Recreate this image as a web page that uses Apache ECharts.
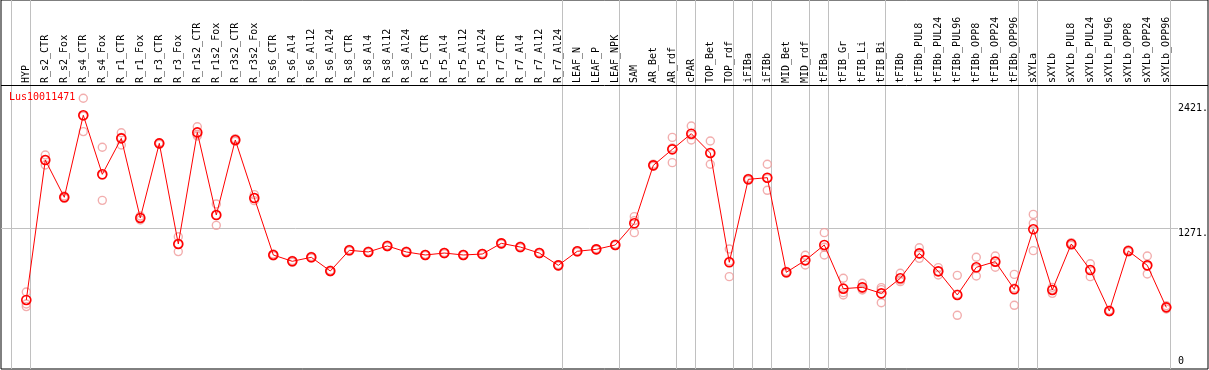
<!DOCTYPE html>
<html>
<head>
<meta charset="utf-8">
<script src="https://cdn.jsdelivr.net/npm/echarts@6/dist/echarts.min.js"></script>
<style>html,body{margin:0;padding:0;background:#fff}#c{width:1209px;height:370px}</style>
</head>
<body>
<div id="c"></div>
<script>
const geneName = 'Lus10011471';
const categories = ['HYP','R_s2_CTR','R_s2_Fox','R_s4_CTR','R_s4_Fox','R_r1_CTR','R_r1_Fox','R_r3_CTR','R_r3_Fox','R_r1s2_CTR','R_r1s2_Fox','R_r3s2_CTR','R_r3s2_Fox','R_s6_CTR','R_s6_Al4','R_s6_Al12','R_s6_Al24','R_s8_CTR','R_s8_Al4','R_s8_Al12','R_s8_Al24','R_r5_CTR','R_r5_Al4','R_r5_Al12','R_r5_Al24','R_r7_CTR','R_r7_Al4','R_r7_Al12','R_r7_Al24','LEAF_N','LEAF_P','LEAF_NPK','SAM','AR_Bet','AR_rdf','cPAR','TOP_Bet','TOP_rdf','iFIBa','iFIBb','MID_Bet','MID_rdf','tFIBa','tFIB_Gr','tFIB_Li','tFIB_Bi','tFIBb','tFIBb_PUL8','tFIBb_PUL24','tFIBb_PUL96','tFIBb_OPP8','tFIBb_OPP24','tFIBb_OPP96','sXYLa','sXYLb','sXYLb_PUL8','sXYLb_PUL24','sXYLb_PUL96','sXYLb_OPP8','sXYLb_OPP24','sXYLb_OPP96'];
const means = [613,1898,1556,2309,1767,2097,1366,2051,1127,2152,1393,2082,1549,1026,968,1005,879,1069,1054,1109,1054,1026,1044,1026,1035,1133,1099,1044,931,1060,1078,1118,1317,1849,1996,2140,1963,959,1721,1736,867,977,1118,717,729,674,812,1041,876,659,913,965,711,1262,705,1127,888,512,1063,931,545];
const rep1 = [686,1944,1568,2465,2015,2149,1384,2058,1194,2204,1494,2094,1580,1035,975,1012,886,1076,1060,1116,1060,1032,1050,1032,1041,1140,1106,1050,938,1066,1084,1124,1378,1860,2106,2211,2073,1081,1730,1859,876,1023,1231,812,766,726,858,1093,910,839,1005,1017,848,1399,729,1140,946,520,1072,1017,560];
const rep2 = [552,1852,1546,2159,1528,2036,1347,2042,1057,2119,1298,2070,1525,1018,960,998,872,1062,1048,1102,1048,1020,1038,1020,1029,1126,1092,1038,924,1054,1072,1112,1231,1840,1874,2082,1859,827,1712,1620,858,934,1026,659,705,588,781,995,842,472,833,913,564,1066,674,1115,827,505,1055,852,530];
const rep3 = [576,1898,1556,2303,1758,2106,1366,2051,1127,2133,1393,2082,1549,1026,968,1005,879,1069,1054,1109,1054,1026,1044,1026,1035,1133,1099,1044,931,1060,1078,1118,1342,1849,2008,2127,1957,969,1721,1729,867,977,1097,680,716,708,797,1035,876,666,901,965,721,1317,710,1126,891,512,1063,924,545];
const yTicks = [0, 1271, 2421];
const refLine = 1271;
// indices after which a group separator is drawn (-1 = before first)
const groupEnds = [-1,0,28,31,34,35,37,38,39,41,42,45,52,53,60];

// layout
const boxL = 1, boxW = 1207, boxT = 0, boxH = 369;
const step = 19, firstX = 26.3;
const xMin = (boxL - firstX) / step, xMax = (boxL + boxW - firstX) / step;
const yMin = -20.9, yMax = 3367.6;
const headerValue = yMax - 85 * (yMax - yMin) / boxH;
const mono = 'DejaVu Sans Mono';

const pts = a => a.map((v, i) => [i, v]);
const repStyle = {
  type: 'scatter', xAxisIndex: 0, yAxisIndex: 0, symbol: 'circle', symbolSize: 8,
  itemStyle: {color: 'rgba(0,0,0,0)', borderColor: '#ef9a9a', borderWidth: 1.4},
  silent: true, z: 3
};

const chart = echarts.init(document.getElementById('c'), null, {renderer: 'canvas'});
chart.setOption({
  animation: false,
  title: {text: geneName, left: 9, top: 92, padding: 0,
    textStyle: {color: '#ff0000', fontSize: 10, fontWeight: 'normal', fontFamily: mono}},
  grid: [
    {left: boxL, top: boxT, width: boxW, height: boxH, show: true, borderColor: '#000', borderWidth: 1,
      backgroundColor: '#fff', containLabel: false, outerBoundsMode: 'none'},
    {left: firstX - step / 2, top: 0, width: step * categories.length, height: 83,
      containLabel: false, outerBoundsMode: 'none'}
  ],
  xAxis: [
    {type: 'value', gridIndex: 0, min: xMin, max: xMax, show: false},
    {type: 'category', gridIndex: 1, data: categories, position: 'bottom',
      axisLine: {show: false}, axisTick: {show: false},
      axisLabel: {inside: true, rotate: 90, interval: 0, margin: 0, fontSize: 10, fontFamily: mono, color: '#000'}}
  ],
  yAxis: [
    {type: 'value', gridIndex: 0, min: yMin, max: yMax, position: 'right',
      axisLine: {show: false}, axisTick: {show: false}, splitLine: {show: false},
      axisLabel: {inside: true, margin: 30, align: 'left', fontSize: 10, fontFamily: mono, color: '#000',
        lineHeight: 10, customValues: yTicks,
        formatter: v => v === 0 ? '0\n' : '\n' + v + '.'}},
    {type: 'value', gridIndex: 1, show: false}
  ],
  series: [
    Object.assign({name: 'rep1', data: pts(rep1)}, repStyle),
    Object.assign({name: 'rep2', data: pts(rep2)}, repStyle),
    Object.assign({name: 'rep3', data: pts(rep3)}, repStyle),
    {
      name: geneName, type: 'line', xAxisIndex: 0, yAxisIndex: 0, data: pts(means),
      symbol: 'circle', symbolSize: 9, showSymbol: true, z: 5,
      lineStyle: {color: '#ff0000', width: 1},
      itemStyle: {color: 'rgba(0,0,0,0)', borderColor: '#ff0000', borderWidth: 1.6},
      markLine: {
        silent: true, symbol: 'none', label: {show: false}, z: 1,
        lineStyle: {color: '#c0c0c0', width: 1, type: 'solid'},
        data: groupEnds.map(i => ({xAxis: i + 0.22}))
          .concat([[{coord: [xMin, refLine]}, {coord: [(1178 - firstX) / step, refLine]}]])
          .concat([{yAxis: headerValue, lineStyle: {color: '#000', width: 1, type: 'solid'}}])
      }
    }
  ]
});
</script>
</body>
</html>
